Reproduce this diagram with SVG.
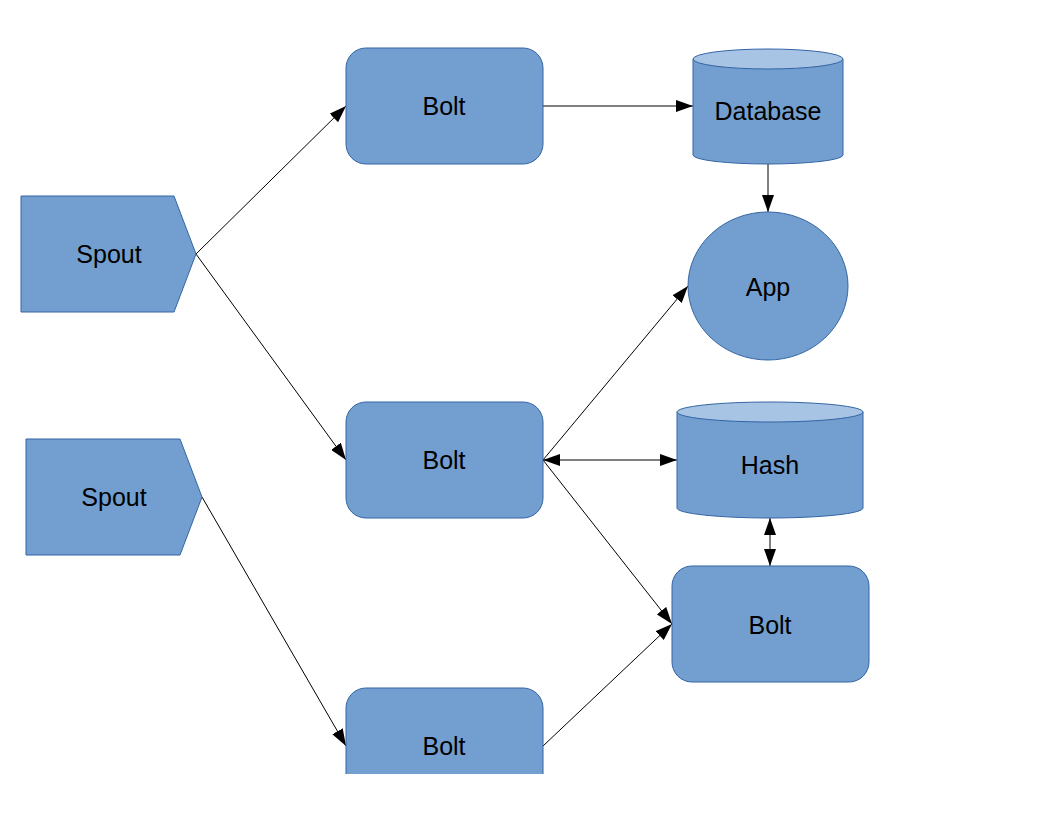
<svg xmlns="http://www.w3.org/2000/svg" width="1056" height="816" viewBox="0 0 1056 816">
  <style>
    .shape { fill: #729fcf; stroke: #3465a4; stroke-width: 1; }
    .lid { fill: #a7c4e5; stroke: #3465a4; stroke-width: 1; }
    .label { font-family: "Liberation Sans", Arial, sans-serif; font-size: 25px; fill: #000; text-anchor: middle; }
    .edge { fill: none; stroke: #000; stroke-width: 1; }
  </style>
  <defs>
    <marker id="arrow" viewBox="0 0 17 12" refX="17" refY="6" markerWidth="17" markerHeight="12" markerUnits="userSpaceOnUse" orient="auto-start-reverse">
      <path d="M0,0 L17,6 L0,12 z" fill="#000"/>
    </marker>
  </defs>
  <rect width="1056" height="816" fill="#fff"/>

  <!-- connectors -->
  <g id="connectors">
    <line class="edge" x1="196" y1="254" x2="346" y2="106" marker-end="url(#arrow)"/>
    <line class="edge" x1="196" y1="254" x2="346" y2="460" marker-end="url(#arrow)"/>
    <line class="edge" x1="202" y1="497" x2="346" y2="746" marker-end="url(#arrow)"/>
    <line class="edge" x1="543" y1="106" x2="693" y2="106" marker-end="url(#arrow)"/>
    <line class="edge" x1="768" y1="164" x2="768" y2="212" marker-end="url(#arrow)"/>
    <line class="edge" x1="543" y1="460" x2="688" y2="286" marker-end="url(#arrow)"/>
    <line class="edge" x1="543" y1="460" x2="677" y2="460" marker-start="url(#arrow)" marker-end="url(#arrow)"/>
    <line class="edge" x1="543" y1="460" x2="672" y2="624" marker-end="url(#arrow)"/>
    <line class="edge" x1="543" y1="746" x2="672" y2="624" marker-end="url(#arrow)"/>
    <line class="edge" x1="770" y1="518" x2="770" y2="566" marker-start="url(#arrow)" marker-end="url(#arrow)"/>
  </g>

  <g id="spout1">
    <path class="shape" d="M21,196 H174 L196,254 L174,312 H21 Z"/>
    <text class="label" x="109" y="263">Spout</text>
  </g>
  <g id="spout2">
    <path class="shape" d="M26,439 H180 L202,497 L180,555 H26 Z"/>
    <text class="label" x="114" y="506">Spout</text>
  </g>

  <g id="bolt1">
    <rect class="shape" x="346" y="48" width="197" height="116" rx="20" ry="20"/>
    <text class="label" x="444" y="115">Bolt</text>
  </g>
  <g id="bolt2">
    <rect class="shape" x="346" y="402" width="197" height="116" rx="20" ry="20"/>
    <text class="label" x="444" y="469">Bolt</text>
  </g>
  <g id="bolt3">
    <path d="M346,774 V708 A20,20 0 0 1 366,688 H523 A20,20 0 0 1 543,708 V774 Z" fill="#729fcf"/>
    <path d="M346,774 V708 A20,20 0 0 1 366,688 H523 A20,20 0 0 1 543,708 V774" fill="none" stroke="#3465a4" stroke-width="1"/>
    <text class="label" x="444" y="755">Bolt</text>
  </g>
  <g id="bolt4">
    <rect class="shape" x="672" y="566" width="197" height="116" rx="20" ry="20"/>
    <text class="label" x="770" y="634">Bolt</text>
  </g>

  <g id="database">
    <path class="shape" d="M693,59 V155 A75,9 0 0 0 843,155 V59"/>
    <ellipse class="lid" cx="768" cy="59" rx="75" ry="10"/>
    <text class="label" x="768" y="120">Database</text>
  </g>

  <g id="app">
    <ellipse class="shape" cx="768" cy="286" rx="80" ry="74"/>
    <text class="label" x="768" y="296">App</text>
  </g>

  <g id="hash">
    <path class="shape" d="M677,412 V508 A93,10 0 0 0 863,508 V412"/>
    <ellipse class="lid" cx="770" cy="412" rx="93" ry="10"/>
    <text class="label" x="770" y="474">Hash</text>
  </g>
</svg>
